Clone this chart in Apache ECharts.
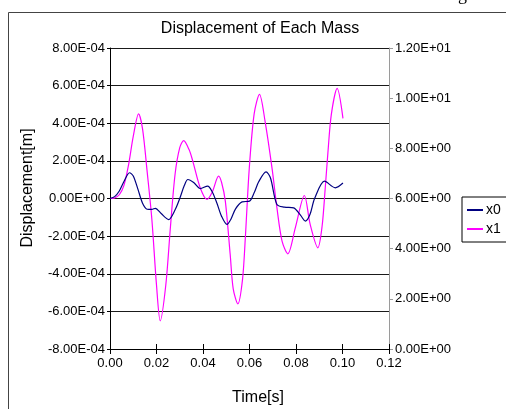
<!DOCTYPE html>
<html>
<head>
<meta charset="utf-8">
<script src="https://cdn.jsdelivr.net/npm/echarts@6/dist/echarts.min.js"></script>
<style>
  html, body { margin: 0; padding: 0; background: #fff; }
  #chart { width: 506px; height: 409px; }
</style>
</head>
<body>
<div id="chart"></div>
<script>
// values, displacement in units of 1e-4 m
const UNIT = 1e-4;

const t0 = [0, 0.002, 0.004, 0.006, 0.0084, 0.010, 0.012, 0.014, 0.016, 0.018, 0.0195, 0.022, 0.0252, 0.028, 0.030,
    0.032, 0.0335, 0.036, 0.0388, 0.042, 0.044, 0.046, 0.048, 0.0503, 0.052, 0.054, 0.0568, 0.060, 0.062, 0.064,
    0.0671, 0.069, 0.0718, 0.075, 0.079, 0.082, 0.084, 0.086, 0.088, 0.0923, 0.0969, 0.1002];
const x0 = [0, 0.1, 0.4, 0.9, 1.37, 1.2, 0.5, -0.25, -0.57, -0.58, -0.52, -0.8, -1.12, -0.6, 0.0,
    0.7, 1.01, 0.85, 0.53, 0.66, 0.35, -0.25, -0.95, -1.38, -1.1, -0.55, -0.18, -0.14, 0.3, 0.9,
    1.42, 1.1, -0.32, -0.46, -0.5, -0.9, -1.2, -0.85, 0.0, 0.92, 0.57, 0.82];

const t1 = [0, 0.002, 0.004, 0.006, 0.008, 0.010, 0.0123, 0.014, 0.016, 0.018, 0.020, 0.0216, 0.024, 0.026, 0.028,
    0.030, 0.0317, 0.034, 0.0356, 0.0388, 0.0417, 0.044, 0.0467, 0.048, 0.0496, 0.0517, 0.053, 0.055, 0.057, 0.0582,
    0.0599, 0.062, 0.0643, 0.0667, 0.0697, 0.0718, 0.074, 0.0765, 0.0797, 0.0836, 0.0861, 0.0894, 0.0912, 0.0926,
    0.0937, 0.0952, 0.0977, 0.1002];
const x1 = [0, 0.03, 0.2, 0.7, 1.8, 3.3, 4.5, 3.7, 1.4, -1.1, -4.6, -6.5, -4.6, -1.5, 1.3,
    2.7, 3.08, 2.6, 1.99, 0.57, -0.05, 0.35, 1.19, 0.85, -0.14, -2.98, -4.8, -5.6, -4.3, -2.1,
    1.6, 4.5, 5.53, 4.1, 1.6, -0.5, -2.27, -2.94, -1.56, 0.16, -1.38, -2.62, -1.5, 0.6,
    2.4, 4.47, 5.85, 4.26];

const seriesNames = ['x0', 'x1'];
const seriesColors = ['#000080', '#ff00ff'];

const FONT = 'Liberation Sans, Arial, sans-serif';
const PLOT_H = 301;

// Excel style 8.00E-04
function fmtE(v) {
    if (Math.abs(v) < 1e-15) return '0.00E+00';
    let parts = v.toExponential(2).split('e');
    let exp = parseInt(parts[1], 10);
    let sign = exp < 0 ? '-' : '+';
    let digits = String(Math.abs(exp)).padStart(2, '0');
    return parts[0] + 'E' + sign + digits;
}

function pairs(ts, vs) {
    return ts.map(function (t, i) { return [t, vs[i]]; });
}

let chart = echarts.init(document.getElementById('chart'), null, { renderer: 'canvas' });

let option = {
    backgroundColor: '#fff',
    animation: false,
    textStyle: { fontFamily: FONT, color: '#000' },
    grid: { left: 110, right: 117, top: 48, bottom: 60, containLabel: false },
    legend: {
        data: seriesNames,
        orient: 'vertical',
        left: 462,
        top: 197,
        padding: [6, 30, 6, 5],
        itemGap: 5,
        itemWidth: 16,
        itemHeight: 2,
        icon: 'rect',
        borderColor: '#000',
        borderWidth: 1,
        textStyle: { fontFamily: FONT, fontSize: 14, color: '#000', padding: [0, 0, 0, -2] }
    },
    xAxis: [{
        type: 'value',
        min: 0,
        max: 0.12,
        interval: 0.02,
        axisLine: { show: true, onZero: false, lineStyle: { color: '#000', width: 1 } },
        axisTick: { show: true, inside: false, length: 5, lineStyle: { color: '#000' } },
        axisLabel: {
            fontFamily: FONT, fontSize: 13, color: '#000', margin: 8,
            formatter: function (v) { return v.toFixed(2); }
        },
        splitLine: { show: false }
    }, {
        // top axis pushed down onto the bottom line: its outward ticks are the inner half of the cross ticks
        type: 'value',
        position: 'top',
        offset: -PLOT_H,
        min: 0,
        max: 0.12,
        interval: 0.02,
        axisLine: { show: false, onZero: false },
        axisTick: { show: true, inside: false, length: 5, lineStyle: { color: '#000' } },
        axisLabel: { show: false },
        splitLine: { show: false }
    }],
    yAxis: [{
        type: 'value',
        min: -8,
        max: 8,
        interval: 2,
        axisLine: { show: true, onZero: false, lineStyle: { color: '#000', width: 1 } },
        axisTick: { show: true, length: 3, lineStyle: { color: '#000' } },
        axisLabel: {
            fontFamily: FONT, fontSize: 13, color: '#000', margin: 5,
            formatter: function (v) { return fmtE(v * UNIT); }
        },
        splitLine: { show: true, lineStyle: { color: '#1a1a1a', width: 1 } }
    }, {
        type: 'value',
        position: 'right',
        min: 0,
        max: 12,
        interval: 2,
        axisLine: { show: true, onZero: false, lineStyle: { color: '#9a9a9a', width: 1 } },
        axisTick: { show: true, length: 4, lineStyle: { color: '#9a9a9a' } },
        axisLabel: {
            fontFamily: FONT, fontSize: 13, color: '#000', margin: 6,
            formatter: function (v) { return fmtE(v); }
        },
        splitLine: { show: false }
    }],
    series: [{
        name: seriesNames[0],
        type: 'line',
        data: pairs(t0, x0),
        smooth: 0.3,
        showSymbol: false,
        color: seriesColors[0],
        lineStyle: { color: seriesColors[0], width: 1.2 },
        z: 3
    }, {
        name: seriesNames[1],
        type: 'line',
        data: pairs(t1, x1),
        smooth: 0.3,
        showSymbol: false,
        color: seriesColors[1],
        lineStyle: { color: seriesColors[1], width: 1.2 },
        z: 2
    }],
    graphic: [{
        type: 'rect',
        shape: { x: 8.5, y: 12.5, width: 600, height: 500 },
        style: { fill: 'none', stroke: '#444', lineWidth: 1 },
        silent: true
    }, {
        type: 'text',
        x: 458, y: 4,
        style: { text: 'g', font: '18px Liberation Serif', fill: '#000', verticalAlign: 'bottom' }
    }, {
        type: 'text',
        x: 260, y: 29,
        style: { text: 'Displacement of Each Mass', font: '16px ' + FONT, fill: '#000', align: 'center', verticalAlign: 'middle' }
    }, {
        type: 'text',
        x: 28, y: 188,
        rotation: Math.PI / 2,
        style: { text: 'Displacement[m]', font: '16px ' + FONT, fill: '#000', align: 'center', verticalAlign: 'middle' }
    }, {
        type: 'text',
        x: 258, y: 398,
        style: { text: 'Time[s]', font: '16px ' + FONT, fill: '#000', align: 'center', verticalAlign: 'middle' }
    }]
};

chart.setOption(option);
</script>
</body>
</html>
